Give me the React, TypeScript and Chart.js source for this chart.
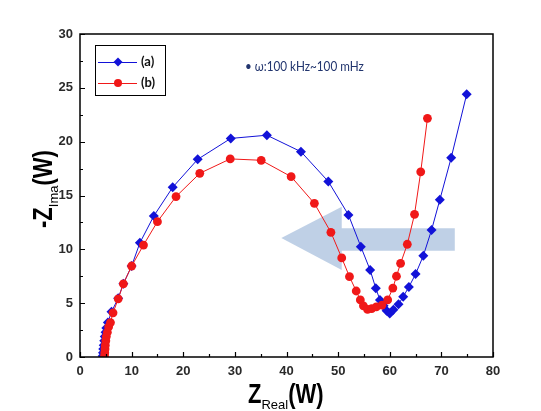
import React, { useEffect, useRef } from 'react';
import { Chart, registerables } from 'chart.js';

Chart.register(...registerables);

// ---- data ----
const seriesALabel = '(a)';
const seriesBLabel = '(b)';

const seriesAReal = [4.4, 4.45, 4.5, 4.6, 4.7, 4.8, 4.95, 5.1, 5.4, 6.1, 7.4, 8.4, 10.0, 11.6, 14.3, 17.95, 22.8, 29.2, 36.2, 42.8, 48.1, 52.0, 54.4, 56.2, 57.3, 58.1, 58.8, 59.4, 60.0, 60.7, 61.7, 62.6, 63.7, 65.0, 66.5, 68.1, 69.7, 71.9, 74.9];
const seriesAImag = [0.1, 0.4, 0.75, 1.1, 1.5, 1.9, 2.3, 2.7, 3.2, 4.2, 5.45, 6.8, 8.45, 10.6, 13.1, 15.76, 18.36, 20.3, 20.6, 19.07, 16.3, 13.2, 10.25, 8.08, 6.38, 5.3, 4.75, 4.3, 4.05, 4.4, 4.9, 5.6, 6.5, 7.7, 9.4, 11.8, 14.6, 18.5, 24.4];

const seriesBReal = [4.75, 4.8, 4.85, 4.9, 5.0, 5.1, 5.3, 5.55, 5.9, 6.4, 7.4, 8.4, 10.0, 12.3, 15.0, 18.6, 23.2, 29.1, 35.1, 40.9, 45.4, 48.6, 50.7, 52.2, 53.5, 54.3, 54.9, 55.7, 56.5, 57.4, 58.5, 59.6, 60.6, 61.3, 62.1, 63.4, 64.8, 66.0, 67.3];
const seriesBImag = [0.1, 0.4, 0.75, 1.1, 1.5, 1.9, 2.3, 2.8, 3.2, 4.1, 5.4, 6.8, 8.45, 10.4, 12.57, 14.9, 17.06, 18.4, 18.27, 16.75, 14.27, 11.58, 9.2, 7.46, 6.13, 5.3, 4.75, 4.42, 4.5, 4.65, 4.82, 5.3, 6.4, 7.5, 8.7, 10.47, 13.25, 17.2, 22.17];

const xMin = 0, xMax = 80, xMajor = 10, xMinor = 5;
const yMin = 0, yMax = 30, yMajor = 5, yMinor = 2.5;

// arrow annotation outline, in data units
const arrowReal = [39.0, 50.7, 50.7, 72.6, 72.6, 50.7, 50.7];
const arrowImag = [11.05, 13.96, 11.95, 11.95, 9.87, 9.87, 8.08];

const annotationText = '\u2022 \u03c9:100 kHz~100 mHz';

const blue = '#1212d8';
const red = '#f01818';

const toPts = (xs: number[], ys: number[]) => xs.map((v, i) => ({ x: v, y: ys[i] }));

const overlayPlugin = {
  id: 'overlay',
  beforeDatasetsDraw(chart: any) {
    const { ctx, scales } = chart;
    const x = scales.x, y = scales.y;
    ctx.save();
    ctx.fillStyle = 'rgba(188,206,229,0.95)';
    ctx.beginPath();
    arrowReal.forEach((v, i) => {
      const px = x.getPixelForValue(v);
      const py = y.getPixelForValue(arrowImag[i]);
      if (i === 0) ctx.moveTo(px, py); else ctx.lineTo(px, py);
    });
    ctx.closePath();
    ctx.fill();
    ctx.restore();
  },
  afterDraw(chart: any) {
    const { ctx, chartArea, scales } = chart;
    const { left, right, top, bottom } = chartArea;
    const x = scales.x, y = scales.y;
    ctx.save();
    // frame
    ctx.strokeStyle = '#000';
    ctx.lineWidth = 1.5;
    ctx.strokeRect(left, top, right - left, bottom - top);
    // ticks (inside)
    ctx.lineWidth = 1.2;
    ctx.beginPath();
    for (let v = xMin; v <= xMax + 1e-9; v += xMinor) {
      const px = Math.round(x.getPixelForValue(v)) + 0.5;
      const len = Math.abs(v % xMajor) < 1e-9 ? 5 : 3;
      ctx.moveTo(px, bottom);
      ctx.lineTo(px, bottom - len);
    }
    for (let v = yMin; v <= yMax + 1e-9; v += yMinor) {
      const py = Math.round(y.getPixelForValue(v)) + 0.5;
      const len = Math.abs(v % yMajor) < 1e-9 ? 5 : 3;
      ctx.moveTo(left, py);
      ctx.lineTo(left + len, py);
    }
    ctx.stroke();

    // legend
    ctx.lineWidth = 1;
    ctx.strokeStyle = '#000';
    ctx.strokeRect(95.5, 45.5, 70, 50);
    const entries = [
      { label: seriesALabel, color: blue, shape: 'diamond', y: 62 },
      { label: seriesBLabel, color: red, shape: 'circle', y: 83 },
    ];
    entries.forEach((e) => {
      ctx.strokeStyle = e.color;
      ctx.lineWidth = 1;
      ctx.beginPath();
      ctx.moveTo(98, e.y + 0.5);
      ctx.lineTo(137, e.y + 0.5);
      ctx.stroke();
      ctx.fillStyle = e.color;
      ctx.beginPath();
      if (e.shape === 'diamond') {
        ctx.moveTo(118, e.y - 4.5);
        ctx.lineTo(122.5, e.y);
        ctx.lineTo(118, e.y + 4.5);
        ctx.lineTo(113.5, e.y);
      } else {
        ctx.arc(118, e.y, 4, 0, Math.PI * 2);
      }
      ctx.closePath();
      ctx.fill();
      ctx.fillStyle = '#111';
      ctx.font = 'bold 13px Lato';
      ctx.textBaseline = 'middle';
      ctx.textAlign = 'left';
      ctx.fillText(e.label, 141, e.y);
    });

    // annotation
    ctx.save();
    ctx.fillStyle = '#22356e';
    ctx.font = '13px Lato';
    ctx.textBaseline = 'middle';
    ctx.translate(245, 67);
    ctx.scale(0.9, 1);
    ctx.fillText(annotationText, 0, 0);
    ctx.restore();

    // x axis title
    ctx.fillStyle = '#000';
    ctx.textBaseline = 'alphabetic';
    ctx.textAlign = 'left';
    let cx = 248;
    ctx.save();
    ctx.translate(cx, 403);
    ctx.scale(1, 1.27);
    ctx.font = 'bold 22px "Liberation Sans"';
    ctx.fillText('Z', 0, 0);
    const zw = ctx.measureText('Z').width;
    ctx.restore();
    cx += zw;
    ctx.font = '13px "Liberation Sans"';
    ctx.fillText('Real', cx, 409);
    cx += ctx.measureText('Real').width;
    ctx.save();
    ctx.translate(cx, 403);
    ctx.scale(1, 1.27);
    ctx.font = 'bold 22px "Liberation Sans"';
    ctx.fillText('(W)', 0, 0);
    ctx.restore();

    // y axis title (rotated)
    ctx.save();
    ctx.translate(52, 228);
    ctx.rotate(-Math.PI / 2);
    let ty = 0;
    ctx.save();
    ctx.scale(1, 1.27);
    ctx.font = 'bold 22px "Liberation Sans"';
    ctx.fillText('-Z', 0, 0);
    ty += ctx.measureText('-Z').width;
    ctx.restore();
    ctx.font = '13px "Liberation Sans"';
    ctx.fillText('Ima', ty, 6);
    ty += ctx.measureText('Ima').width;
    ctx.save();
    ctx.scale(1, 1.27);
    ctx.font = 'bold 22px "Liberation Sans"';
    ctx.fillText('(W)', ty, 0);
    ctx.restore();
    ctx.restore();

    ctx.restore();
  },
};

export default function App() {
  const ref = useRef<HTMLCanvasElement | null>(null);
  useEffect(() => {
    if (!ref.current) return;
    const chart = new Chart(ref.current, {
      type: 'scatter',
      data: {
        datasets: [
          {
            label: seriesALabel,
            data: toPts(seriesAReal, seriesAImag),
            showLine: true,
            borderColor: blue,
            backgroundColor: blue,
            borderWidth: 1,
            pointStyle: 'rectRot',
            pointRadius: 5,
            pointBorderWidth: 0,
            order: 1,
          },
          {
            label: seriesBLabel,
            data: toPts(seriesBReal, seriesBImag),
            showLine: true,
            borderColor: red,
            backgroundColor: red,
            borderWidth: 1,
            pointStyle: 'circle',
            pointRadius: 4.4,
            pointBorderWidth: 0,
            order: 0,
          },
        ],
      },
      options: {
        responsive: false,
        animation: false,
        layout: { padding: { top: 34, right: 48, left: 0, bottom: 0 } },
        plugins: { legend: { display: false }, tooltip: { enabled: false } },
        scales: {
          x: {
            type: 'linear',
            min: xMin,
            max: xMax,
            grid: { display: false, drawTicks: false },
            border: { display: false },
            ticks: {
              stepSize: xMajor,
              padding: 7,
              color: '#2a2a2a',
              font: { family: '"Liberation Sans"', size: 13, weight: 'bold' },
              maxRotation: 0,
            },
            afterFit: (s: any) => { s.height = 54; },
          },
          y: {
            type: 'linear',
            min: yMin,
            max: yMax,
            grid: { display: false, drawTicks: false },
            border: { display: false },
            ticks: {
              stepSize: yMajor,
              padding: 7,
              color: '#2a2a2a',
              font: { family: '"Liberation Sans"', size: 13, weight: 'bold' },
            },
            afterFit: (s: any) => { s.width = 80; },
          },
        },
      },
      plugins: [overlayPlugin],
    } as any);
    return () => chart.destroy();
  }, []);
  return (
    <div style={{ position: 'absolute', left: 0, top: 0, width: 541, height: 411, background: '#fff' }}>
      <canvas ref={ref} width={541} height={411} style={{ display: 'block' }} />
    </div>
  );
}
